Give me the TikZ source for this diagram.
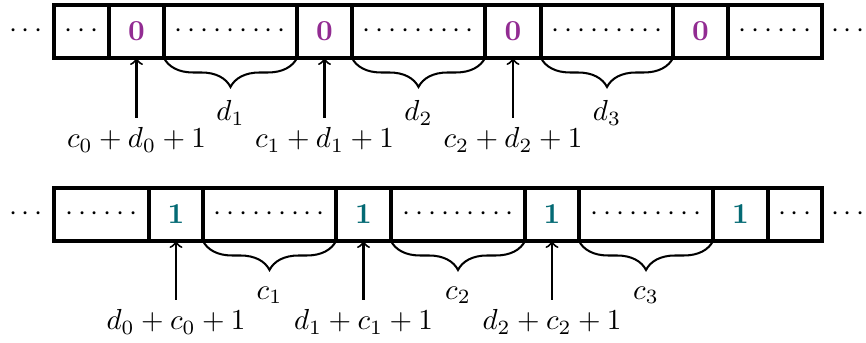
\documentclass[tikz,border=0pt]{standalone}
\usetikzlibrary{decorations.pathreplacing}
\definecolor{zcol}{RGB}{146,44,146}
\definecolor{ocol}{RGB}{4,106,116}
\newcommand\dthree{$\cdotp\cdotp\cdotp$}
\newcommand\dsix{$\cdotp\cdotp\cdotp\cdotp\cdotp\cdotp$}
\newcommand\dnine{$\cdotp\cdotp\cdotp\cdotp\cdotp\cdotp\cdotp\cdotp\cdotp$}
\tikzset{
  cell/.style={draw, line width=1.1pt, inner sep=0pt, outer sep=0pt, minimum height=53*0.345pt},
  cw/.style={minimum width=#1*0.345pt},
  zero/.style={cell, text=zcol, font=\bfseries},
  one/.style={cell, text=ocol, font=\bfseries},
  ptr/.style={->, line width=0.7pt},
  brc/.style={decorate, decoration={brace, mirror, amplitude=10pt}, line width=0.7pt},
}
\begin{document}
\begin{tikzpicture}[x=0.345pt, y=-0.345pt]
\useasboundingbox (0,0) rectangle (866,343);
% top row
\node (tl) at (26,31.5) {$\cdots$};
\node (tr) at (848,31.5) {$\cdots$};
\node[cell, cw=55]  (t0) at (81.5,31.5) {\dthree};
\node[zero, cw=55]  (t1) at (136.5,31.5) {0};
\node[cell, cw=133] (t2) at (230.5,31.5) {\dnine};
\node[zero, cw=55]  (t3) at (324.5,31.5) {0};
\node[cell, cw=133] (t4) at (418.5,31.5) {\dnine};
\node[zero, cw=55]  (t5) at (513,31.5) {0};
\node[cell, cw=132] (t6) at (607,31.5) {\dnine};
\node[zero, cw=55]  (t7) at (700.5,31.5) {0};
\node[cell, cw=94]  (t8) at (775,31.5) {\dsix};
% top labels
\node (lt1) at (136.5,140) {$c_0+d_0+1$};
\node (lt3) at (324.5,140) {$c_1+d_1+1$};
\node (lt5) at (513,140) {$c_2+d_2+1$};
\draw[ptr] (lt1.north) -- (t1.south);
\draw[ptr] (lt3.north) -- (t3.south);
\draw[ptr] (lt5.north) -- (t5.south);
\draw[brc] (t2.south west) -- (t2.south east);
\draw[brc] (t4.south west) -- (t4.south east);
\draw[brc] (t6.south west) -- (t6.south east);
\node (d1) at (230.5,113) {$d_1$};
\node (d2) at (418.5,113) {$d_2$};
\node (d3) at (607,113) {$d_3$};
% bottom row
\node (bl) at (26,214.5) {$\cdots$};
\node (br) at (848,214.5) {$\cdots$};
\node[cell, cw=95]  (b0) at (101.5,214.5) {\dsix};
\node[one, cw=54]   (b1) at (176,214.5) {1};
\node[cell, cw=133] (b2) at (269.5,214.5) {\dnine};
\node[one, cw=55]   (b3) at (363.5,214.5) {1};
\node[cell, cw=134] (b4) at (458,214.5) {\dnine};
\node[one, cw=54]   (b5) at (552,214.5) {1};
\node[cell, cw=134] (b6) at (646,214.5) {\dnine};
\node[one, cw=55]   (b7) at (740.5,214.5) {1};
\node[cell, cw=54]  (b8) at (795,214.5) {\dthree};
% bottom labels
\node (lb1) at (176,322) {$d_0+c_0+1$};
\node (lb3) at (363.5,322) {$d_1+c_1+1$};
\node (lb5) at (552,322) {$d_2+c_2+1$};
\draw[ptr] (lb1.north) -- (b1.south);
\draw[ptr] (lb3.north) -- (b3.south);
\draw[ptr] (lb5.north) -- (b5.south);
\draw[brc] (b2.south west) -- (b2.south east);
\draw[brc] (b4.south west) -- (b4.south east);
\draw[brc] (b6.south west) -- (b6.south east);
\node (c1) at (269.5,295) {$c_1$};
\node (c2) at (458,295) {$c_2$};
\node (c3) at (646,295) {$c_3$};
\end{tikzpicture}
\end{document}
